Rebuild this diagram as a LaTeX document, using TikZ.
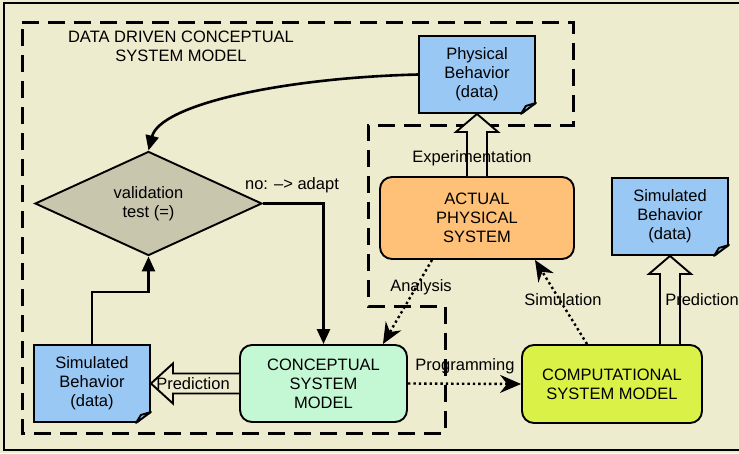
\documentclass[tikz,border=0pt]{standalone}
\usepackage{fontspec}
\setmainfont{Liberation Sans}
\usetikzlibrary{arrows.meta,calc,shapes.geometric}

\definecolor{bgcol}{RGB}{238,236,206}
\definecolor{docblue}{RGB}{153,200,245}
\definecolor{physorange}{RGB}{255,192,120}
\definecolor{conceptgreen}{RGB}{196,248,212}
\definecolor{compgreen}{RGB}{218,242,72}
\definecolor{diamondgray}{RGB}{200,198,172}

\newcommand{\dgfont}{\fontsize{16.5}{19}\selectfont}

\tikzset{
  doc/.style={rectangle, draw=black, line width=1.9pt, fill=docblue, minimum width=116pt, minimum height=77pt, align=center, font=\dgfont, inner sep=0pt},
  process/.style={rectangle, rounded corners=12pt, draw=black, line width=1.9pt, align=center, font=\dgfont, inner sep=0pt},
  decision/.style={diamond, draw=black, line width=1.9pt, fill=diamondgray, minimum width=227pt, minimum height=77pt, align=center, font=\dgfont, inner sep=0pt},
  lbl/.style={font=\dgfont, inner sep=0pt},
  flow/.style={line width=2.6pt, -{Triangle[length=15pt,width=13pt]}},
  dotflow/.style={line width=2.4pt, dash pattern=on 2.4pt off 3pt, -{Stealth[length=21pt,width=18pt,inset=7pt]}},
  hollow/.style={draw=black, line width=1.9pt, fill=bgcol, line join=miter},
  region/.style={line width=3pt, dash pattern=on 17pt off 9pt}
}

% hollow block arrow, going up from #1 to #2
\newcommand{\hollowup}[2]{%
  \coordinate (hb) at (#2.south |- #1.north);
  \draw[hollow] ($(hb)+(-10pt,0pt)$) -- ($(#2.south)+(-10pt,-18pt)$) -- ($(#2.south)+(-21pt,-18pt)$)
    -- (#2.south) -- ($(#2.south)+(21pt,-18pt)$) -- ($(#2.south)+(10pt,-18pt)$) -- ($(hb)+(10pt,0pt)$);}
% hollow block arrow, going left from #1 to #2
\newcommand{\hollowleft}[2]{%
  \draw[hollow] ($(#1.west)+(0pt,10pt)$) -- ($(#2.east)+(22pt,10pt)$) -- ($(#2.east)+(22pt,20pt)$)
    -- (#2.east) -- ($(#2.east)+(22pt,-20pt)$) -- ($(#2.east)+(22pt,-10pt)$) -- ($(#1.west)+(0pt,-10pt)$);}
% folded corner of a data sheet
\newcommand{\dogear}[1]{%
  \fill[bgcol] ($(#1.south east)+(-15pt,-1.4pt)$) -- ($(#1.south east)+(1.4pt,-1.4pt)$) -- ($(#1.south east)+(1.4pt,11pt)$) -- cycle;
  \draw[line width=1.9pt, line join=round, fill=docblue] ($(#1.south east)+(-15pt,0pt)$) -- ($(#1.south east)+(0pt,11pt)$)
    -- ($(#1.south east)+(-10pt,8pt)$) -- cycle;}

\begin{document}
\begin{tikzpicture}[x=1pt, y=-1pt]
	\fill[bgcol] (0,0) rectangle (739,453);
	\useasboundingbox (0,0) rectangle (739,453);
	\draw[line width=2pt] (739,3) -- (4,3) -- (4,450) -- (739,450);

	% data driven part
	\draw[region] (22,22) -- (573,22) -- (573,125) -- (368,125) -- (368,306) -- (445,306) -- (445,433) -- (22,433) -- cycle;
	\node[lbl, align=center] (title) at (181,46) {DATA DRIVEN CONCEPTUAL\\SYSTEM MODEL};

	\node[doc] (physbeh) at (477,74.5) {Physical\\Behavior\\(data)};
	\node[decision] (valid) at (148.5,203.5) {validation\\test (=)};
	\node[doc] (simleft) at (92,383.5) {Simulated\\Behavior\\(data)};
	\node[process, fill=conceptgreen, minimum width=167pt, minimum height=77pt] (concept) at (323.5,383.5) {CONCEPTUAL\\SYSTEM\\MODEL};
	\node[process, fill=physorange, minimum width=194pt, minimum height=82pt] (actual) at (477,218) {ACTUAL\\PHYSICAL\\SYSTEM};
	\node[doc] (simright) at (670,216.5) {Simulated\\Behavior\\(data)};
	\node[process, fill=compgreen, minimum width=180pt, minimum height=78pt] (comput) at (612,384) {COMPUTATIONAL\\SYSTEM MODEL};

	\dogear{physbeh}
	\dogear{simleft}
	\dogear{simright}

	\draw[flow] (physbeh.west) .. controls (280,78) and (160,105) .. (valid.north);
	\draw[flow] (valid.east) -| (concept.north);
	\coordinate (up) at (92,292);
	\draw[flow] (simleft.north) -- (up) -| (valid.south);

	\draw[dotflow] ($(actual.south)+(-45pt,0pt)$) -- ($(concept.north east)+(-25pt,0pt)$);
	\draw[dotflow] ($(comput.north)+(-25pt,0pt)$) -- ($(actual.south)+(58pt,0pt)$);
	\draw[dotflow] (concept.east) -- (comput.west);

	\hollowup{actual}{physbeh}
	\hollowup{comput}{simright}
	\hollowleft{concept}{simleft}

	\node[lbl] (adapt) at (292,185) {no: \textendash> adapt};
	\node[lbl] (experim) at (472,158) {Experimentation};
	\node[lbl] (analysis) at (421,287) {Analysis};
	\node[lbl] (simul) at (563,300) {Simulation};
	\node[lbl] (predright) at (702,300) {Prediction};
	\node[lbl] (progr) at (465,366) {Programming};
	\node[lbl] (predleft) at (193,384) {Prediction};
\end{tikzpicture}
\end{document}
